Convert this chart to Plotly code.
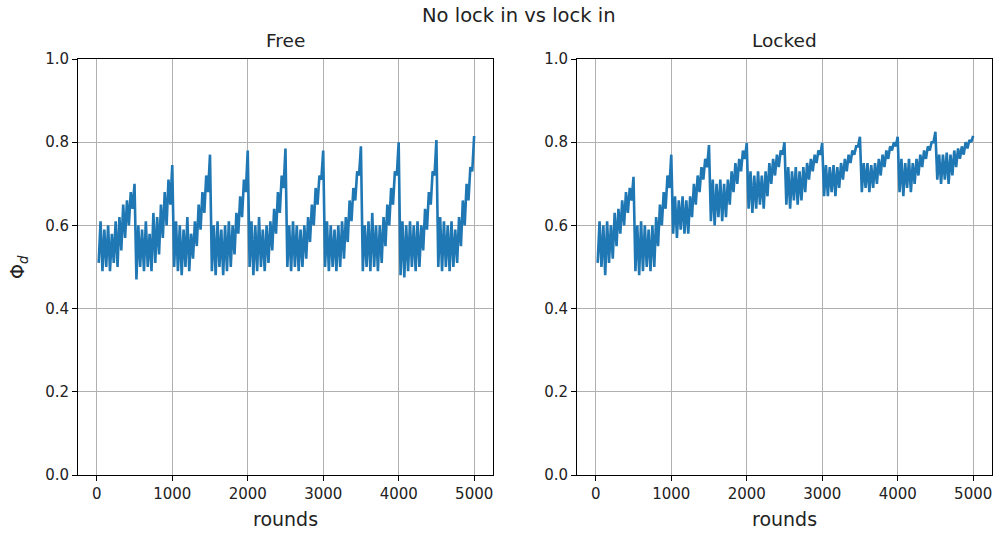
import plotly.graph_objects as go

# Sampled trajectory of Phi_d every 25 rounds (band of the noisy run, low/high alternating)
rounds = list(range(24, 5000, 25))

free_phi = [
    0.51, 0.61, 0.49, 0.59, 0.50, 0.60, 0.49, 0.58, 0.51, 0.61, 0.50, 0.62, 0.54, 0.65, 0.57, 0.66, 0.60, 0.68, 0.64, 0.70,
    0.47, 0.60, 0.50, 0.59, 0.49, 0.61, 0.50, 0.58, 0.49, 0.63, 0.51, 0.62, 0.53, 0.65, 0.57, 0.68, 0.60, 0.71, 0.65, 0.745,
    0.50, 0.61, 0.49, 0.60, 0.48, 0.59, 0.50, 0.62, 0.49, 0.58, 0.52, 0.61, 0.55, 0.65, 0.59, 0.68, 0.63, 0.72, 0.68, 0.77,
    0.49, 0.60, 0.48, 0.61, 0.50, 0.59, 0.48, 0.60, 0.49, 0.61, 0.50, 0.60, 0.53, 0.63, 0.58, 0.67, 0.62, 0.71, 0.68, 0.78,
    0.50, 0.61, 0.48, 0.60, 0.49, 0.62, 0.50, 0.59, 0.49, 0.60, 0.51, 0.61, 0.54, 0.64, 0.58, 0.68, 0.63, 0.72, 0.69, 0.785,
    0.50, 0.60, 0.49, 0.61, 0.50, 0.60, 0.49, 0.59, 0.50, 0.60, 0.52, 0.62, 0.56, 0.65, 0.60, 0.69, 0.65, 0.72, 0.71, 0.78,
    0.50, 0.61, 0.49, 0.60, 0.50, 0.59, 0.49, 0.60, 0.50, 0.61, 0.52, 0.62, 0.56, 0.66, 0.61, 0.69, 0.66, 0.73, 0.72, 0.79,
    0.49, 0.60, 0.50, 0.61, 0.49, 0.63, 0.50, 0.60, 0.49, 0.60, 0.51, 0.62, 0.55, 0.65, 0.60, 0.69, 0.65, 0.73, 0.72, 0.80,
    0.48, 0.61, 0.475, 0.60, 0.49, 0.61, 0.50, 0.60, 0.49, 0.61, 0.50, 0.60, 0.54, 0.64, 0.59, 0.68, 0.65, 0.73, 0.72, 0.805,
    0.50, 0.62, 0.49, 0.61, 0.50, 0.60, 0.49, 0.61, 0.50, 0.59, 0.51, 0.62, 0.55, 0.66, 0.60, 0.70, 0.66, 0.74, 0.73, 0.815,
]

locked_phi = [
    0.51, 0.61, 0.50, 0.60, 0.48, 0.61, 0.51, 0.60, 0.52, 0.63, 0.55, 0.64, 0.58, 0.66, 0.60, 0.68, 0.63, 0.69, 0.66, 0.717,
    0.49, 0.60, 0.48, 0.61, 0.49, 0.60, 0.50, 0.59, 0.49, 0.60, 0.50, 0.62, 0.55, 0.65, 0.60, 0.68, 0.64, 0.72, 0.69, 0.77,
    0.58, 0.67, 0.57, 0.66, 0.59, 0.67, 0.58, 0.66, 0.58, 0.67, 0.62, 0.70, 0.65, 0.72, 0.68, 0.74, 0.71, 0.76, 0.74, 0.793,
    0.61, 0.71, 0.60, 0.70, 0.62, 0.71, 0.61, 0.70, 0.62, 0.71, 0.65, 0.73, 0.68, 0.75, 0.70, 0.76, 0.73, 0.78, 0.76, 0.798,
    0.64, 0.73, 0.63, 0.72, 0.64, 0.73, 0.65, 0.72, 0.64, 0.73, 0.67, 0.75, 0.70, 0.76, 0.72, 0.77, 0.74, 0.78, 0.77, 0.80,
    0.65, 0.74, 0.64, 0.73, 0.66, 0.74, 0.65, 0.73, 0.66, 0.74, 0.68, 0.75, 0.71, 0.76, 0.73, 0.77, 0.75, 0.78, 0.77, 0.798,
    0.67, 0.745, 0.67, 0.74, 0.68, 0.745, 0.67, 0.74, 0.69, 0.75, 0.71, 0.76, 0.73, 0.77, 0.75, 0.78, 0.77, 0.79, 0.79, 0.813,
    0.68, 0.75, 0.69, 0.75, 0.68, 0.745, 0.69, 0.75, 0.70, 0.76, 0.72, 0.77, 0.74, 0.78, 0.76, 0.79, 0.78, 0.80, 0.79, 0.813,
    0.68, 0.76, 0.67, 0.75, 0.69, 0.76, 0.68, 0.75, 0.70, 0.76, 0.72, 0.77, 0.74, 0.78, 0.76, 0.79, 0.78, 0.80, 0.80, 0.825,
    0.71, 0.77, 0.70, 0.77, 0.71, 0.775, 0.70, 0.77, 0.72, 0.78, 0.74, 0.785, 0.76, 0.79, 0.77, 0.80, 0.785, 0.805, 0.80, 0.815,
]

panel_titles = ["Free", "Locked"]
suptitle = "No lock in vs lock in"
x_ticks = [0, 1000, 2000, 3000, 4000, 5000]
y_ticks = [0.0, 0.2, 0.4, 0.6, 0.8, 1.0]

W, H = 995, 533
FONT = "DejaVu Sans"
BLUE = "#1f77b4"

fig = go.Figure()
for xs, ys, xa, ya in [(rounds, free_phi, "x", "y"), (rounds, locked_phi, "x2", "y2")]:
    fig.add_trace(go.Scatter(x=xs, y=ys, mode="lines",
                             line=dict(color=BLUE, width=2.6, simplify=False),
                             xaxis=xa, yaxis=ya, showlegend=False))

# axes boxes in pixels: left 78-493, right 577-992, top 59, bottom 475
left_dom = [78 / W, 493 / W]
right_dom = [577 / W, 992 / W]
y_dom = [(H - 475) / H, (H - 59) / H]

xcommon = dict(range=[-249.95, 5248.95], tickvals=x_ticks, ticks="outside", ticklen=5,
               tickwidth=1, tickcolor="black", showline=True, linecolor="black",
               linewidth=1, mirror=True, showgrid=True, gridcolor="#b0b0b0",
               gridwidth=1, zeroline=False, tickfont=dict(family=FONT, size=15, color="#222"))
ycommon = dict(range=[0, 1], tickvals=y_ticks, tickformat=".1f", ticks="outside",
               ticklen=5, tickwidth=1, tickcolor="black", showline=True,
               linecolor="black", linewidth=1, mirror=True, showgrid=True,
               gridcolor="#b0b0b0", gridwidth=1, zeroline=False,
               tickfont=dict(family=FONT, size=15, color="#222"), domain=y_dom)

fig.update_layout(
    width=W, height=H,
    margin=dict(l=0, r=0, t=0, b=0, pad=0, autoexpand=False),
    paper_bgcolor="white", plot_bgcolor="white",
    xaxis=dict(domain=left_dom, anchor="y", automargin=False, **xcommon),
    yaxis=dict(anchor="x", automargin=False, **ycommon),
    xaxis2=dict(domain=right_dom, anchor="y2", automargin=False, **xcommon),
    yaxis2=dict(anchor="x2", automargin=False, **ycommon),
)

ann = []
ann.append(dict(text=suptitle, x=519 / W, y=1 - 15 / H, xref="paper", yref="paper",
                showarrow=False, xanchor="center", yanchor="middle",
                font=dict(family=FONT, size=19.5, color="#222")))
for title, cx in zip(panel_titles, [285.5, 784.5]):
    ann.append(dict(text=title, x=cx / W, y=1 - 41 / H, xref="paper", yref="paper",
                    showarrow=False, xanchor="center", yanchor="middle",
                    font=dict(family=FONT, size=18.5, color="#222")))
    ann.append(dict(text="rounds", x=cx / W, y=1 - 519 / H, xref="paper", yref="paper",
                    showarrow=False, xanchor="center", yanchor="middle",
                    font=dict(family=FONT, size=19, color="#222")))
ann.append(dict(text="Φ<sub><i>d</i></sub>", x=18 / W, y=1 - 267 / H, xref="paper",
                yref="paper", showarrow=False, textangle=-90, xanchor="center",
                yanchor="middle", font=dict(family=FONT, size=19, color="#222")))
fig.update_layout(annotations=ann)

fig.write_html("out.html")
